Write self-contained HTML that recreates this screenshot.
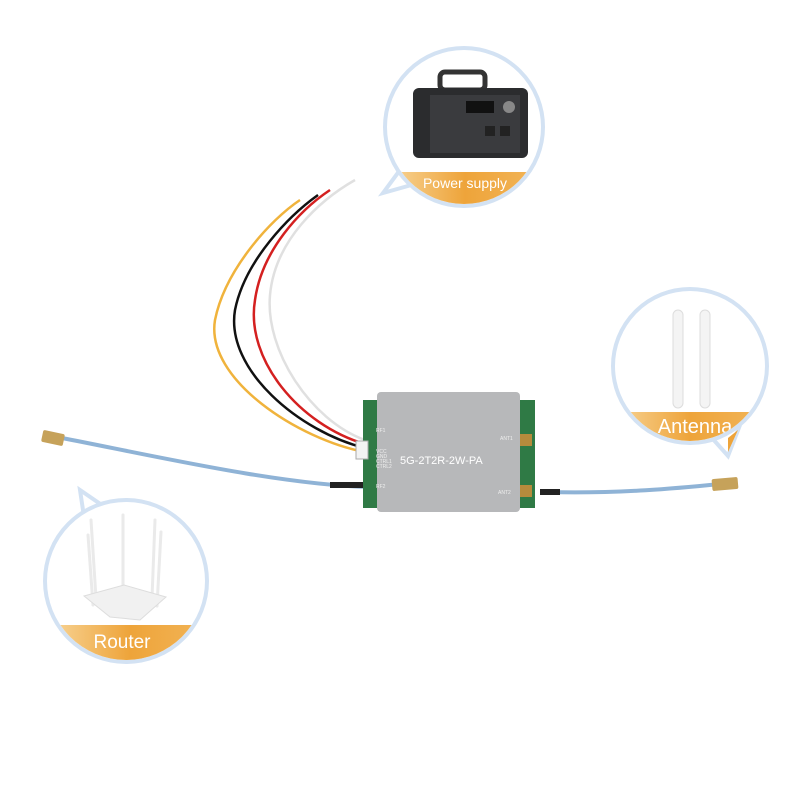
<!DOCTYPE html>
<html><head><meta charset="utf-8"><style>body{margin:0;background:#fff}svg{display:block}</style></head><body>
<svg width="800" height="800" viewBox="0 0 800 800" xmlns="http://www.w3.org/2000/svg" font-family="Liberation Sans, sans-serif">
<defs>
<linearGradient id="og" x1="0" x2="1"><stop offset="0" stop-color="#f8d79c"/><stop offset=".5" stop-color="#eea43a"/><stop offset="1" stop-color="#f2b65a"/></linearGradient>
<clipPath id="c1"><circle cx="464" cy="127" r="77"/></clipPath>
<clipPath id="c2"><circle cx="690" cy="366" r="75"/></clipPath>
<clipPath id="c3"><circle cx="126" cy="581" r="79"/></clipPath>
</defs>
<!-- power bubble -->
<path d="M400 170 L383 193 L415 184" fill="#fff" stroke="#d3e2f3" stroke-width="4"/>
<circle cx="464" cy="127" r="79" fill="#fff" stroke="#d3e2f3" stroke-width="4"/>
<g clip-path="url(#c1)">
<rect x="385" y="172" width="160" height="40" fill="url(#og)"/>
<text x="465" y="188" fill="#fff" font-size="14" text-anchor="middle">Power supply</text>
</g>
<rect x="440" y="72" width="45" height="18" rx="5" fill="none" stroke="#333" stroke-width="5"/>
<rect x="413" y="88" width="115" height="70" rx="6" fill="#2b2c2e"/>
<rect x="430" y="95" width="90" height="58" fill="#3a3b3e"/>
<rect x="466" y="101" width="28" height="12" fill="#111"/>
<circle cx="509" cy="107" r="6" fill="#888"/>
<rect x="485" y="126" width="10" height="10" fill="#222"/><rect x="500" y="126" width="10" height="10" fill="#222"/>
<!-- antenna bubble -->
<path d="M712 438 L728 456 L740 425" fill="#fff" stroke="#d3e2f3" stroke-width="4"/>
<circle cx="690" cy="366" r="77" fill="#fff" stroke="#d3e2f3" stroke-width="4"/>
<g clip-path="url(#c2)">
<rect x="610" y="412" width="160" height="40" fill="url(#og)"/>
<text x="695" y="433" fill="#fff" font-size="20" text-anchor="middle">Antenna</text>
</g>
<path d="M728 438 L728 452 L738 430 Z" fill="#eea43a"/>
<rect x="673" y="310" width="10" height="98" rx="5" fill="#f4f4f4" stroke="#ddd"/>
<rect x="700" y="310" width="10" height="98" rx="5" fill="#f4f4f4" stroke="#ddd"/>
<!-- router bubble -->
<path d="M86 530 L80 490 L112 512" fill="#fff" stroke="#d3e2f3" stroke-width="4"/>
<circle cx="126" cy="581" r="81" fill="#fff" stroke="#d3e2f3" stroke-width="4"/>
<g clip-path="url(#c3)">
<rect x="45" y="625" width="170" height="40" fill="url(#og)"/>
<text x="122" y="648" fill="#fff" font-size="19" text-anchor="middle">Router</text>
</g>
<g stroke="#eaeaea" stroke-width="3" stroke-linecap="round">
<line x1="88" y1="535" x2="93" y2="605"/><line x1="91" y1="520" x2="96" y2="598"/>
<line x1="123" y1="515" x2="123" y2="595"/><line x1="155" y1="520" x2="152" y2="598"/><line x1="161" y1="532" x2="157" y2="606"/>
</g>
<path d="M84 596 L124 585 L166 597 L140 620 L110 617 Z" fill="#f1f1f1" stroke="#ddd"/>
<!-- wires -->
<g fill="none" stroke-width="2.5">
<path d="M365 452 C300 440 205 380 215 320 C225 270 270 220 300 200" stroke="#f0b33c"/>
<path d="M365 448 C300 432 225 370 235 310 C245 260 290 215 318 195" stroke="#111"/>
<path d="M365 444 C300 425 245 360 255 300 C262 250 300 210 330 190" stroke="#d42020"/>
<path d="M365 440 C310 420 265 350 270 295 C275 240 320 200 355 180" stroke="#e0e0e0"/>
</g>
<!-- cables -->
<path d="M62 438 C150 455 280 485 370 487" fill="none" stroke="#8fb3d6" stroke-width="4"/>
<path d="M545 492 C620 494 680 488 720 484" fill="none" stroke="#8fb3d6" stroke-width="4"/>
<rect x="42" y="432" width="22" height="12" rx="2" fill="#c6a25a" transform="rotate(12 53 438)"/>
<rect x="712" y="478" width="26" height="12" rx="2" fill="#c6a25a" transform="rotate(-5 725 484)"/>
<rect x="330" y="482" width="40" height="6" fill="#222"/>
<rect x="540" y="489" width="20" height="6" fill="#222"/>
<!-- module -->
<rect x="363" y="400" width="172" height="108" fill="#2f7a45"/>
<rect x="377" y="392" width="143" height="120" rx="4" fill="#b7b8ba"/>
<rect x="356" y="441" width="12" height="18" fill="#f3f3f3" stroke="#aaa"/>
<text x="400" y="464" font-size="11" fill="#fff">5G-2T2R-2W-PA</text>
<g font-size="5" fill="#eee"><text x="376" y="432">RF1</text><text x="376" y="488">RF2</text><text x="500" y="440">ANT1</text><text x="498" y="494">ANT2</text>
<text x="376" y="453">VCC</text><text x="376" y="458">GND</text><text x="376" y="463">CTRL1</text><text x="376" y="468">CTRL2</text></g>
<rect x="520" y="434" width="12" height="12" fill="#b58b3c"/><rect x="520" y="485" width="12" height="12" fill="#b58b3c"/>
</svg>
</body></html>
